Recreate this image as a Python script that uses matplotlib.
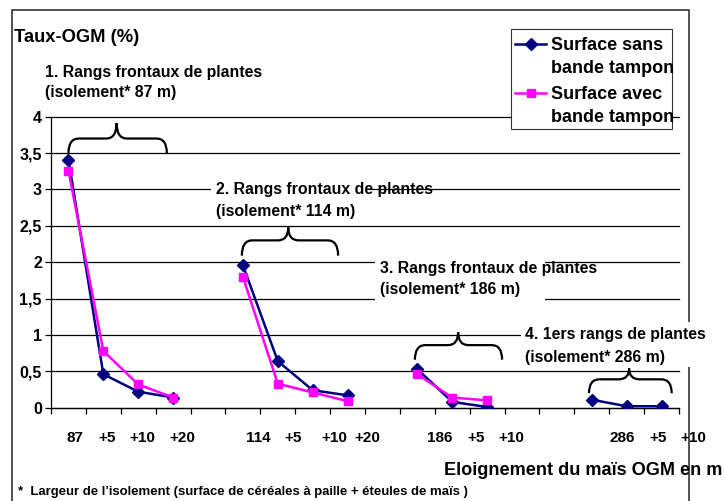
import numpy as np
import matplotlib.pyplot as plt
from matplotlib.patches import Rectangle, PathPatch
from matplotlib.path import Path
from matplotlib.lines import Line2D

plt.rcParams['font.family'] = ['Liberation Sans', 'DejaVu Sans']
plt.rcParams['font.weight'] = 'bold'

W, H = 726, 501

sans_bande = [3.41, 0.46, 0.22, 0.14, np.nan, 1.96, 0.64, 0.24, 0.17, np.nan,
              0.53, 0.08, 0.01, np.nan, np.nan, 0.11, 0.02, 0.02]
avec_bande = [3.26, 0.78, 0.32, 0.14, np.nan, 1.80, 0.33, 0.21, 0.09, np.nan,
              0.46, 0.14, 0.10, np.nan, np.nan, np.nan, np.nan, np.nan]
x_labels = ['87', '+5', '+10', '+20', '114', '+5', '+10', '+20',
            '186', '+5', '+10', '286', '+5', '+10']
y_ticks = [0, 0.5, 1, 1.5, 2, 2.5, 3, 3.5, 4]
y_labels = ['0', '0,5', '1', '1,5', '2', '2,5', '3', '3,5', '4']
series_names = ['Surface sans\nbande tampon', 'Surface avec\nbande tampon']
group_titles = [['1. Rangs frontaux de plantes', '(isolement* 87 m)'],
                ['2. Rangs frontaux de plantes', '(isolement* 114 m)'],
                ['3. Rangs frontaux de plantes', '(isolement* 186 m)'],
                ['4. 1ers rangs de plantes', '(isolement* 286 m)']]

# position des libelles x (en unites de categorie)
x_label_pos = [0.19, 1.10, 2.11, 3.26, 5.43, 6.44, 7.61, 8.58,
               10.65, 11.68, 12.68, 15.87, 16.90, 17.90]
# accolades : x gauche, x droite, x centre, y bas, y epaule, y pointe
braces = [(0.0, 2.82, 1.38, 3.50, 3.70, 3.91),
          (4.97, 7.73, 6.30, 2.09, 2.30, 2.48),
          (9.93, 12.43, 11.17, 0.66, 0.86, 1.04),
          (14.92, 17.29, 16.07, 0.20, 0.39, 0.54)]
# textes des groupes : x gauche (px), lignes de base (px)
title_pos = [(45, [77.3, 97.3]), (216, [194, 215.7]),
             (380, [273.3, 294.3]), (525, [339.3, 361.7])]
# caches blancs derriere les textes (px)
masks = [(211, 180, 372, 221), (375, 255, 545, 306), (521, 322, 712, 367)]


def fx(px): return px / W
def fy(py): return 1 - py / H


fig = plt.figure(figsize=(W / 100, H / 100), dpi=100)
ax = fig.add_axes([fx(51), fy(407.7), 628 / W, 291 / H])

x = np.arange(len(sans_bande))
ax.plot(x, sans_bande, color='#000080', lw=1.8, marker='D', ms=6.3, zorder=3)
ax.plot(x, avec_bande, color='#FF00FF', lw=1.8, marker='s', ms=6.2, zorder=4)

ax.set_xlim(-0.5, len(x) - 0.5)
ax.set_ylim(0, 4)
ax.set_yticks(y_ticks)
ax.set_yticklabels(y_labels, fontsize=11.5, fontweight='bold')
ax.set_xticks(np.arange(-0.5, len(x), 1))
ax.set_xticklabels([])
ax.tick_params(axis='y', length=4, width=0.9, pad=2.5)
ax.tick_params(axis='x', length=4, width=0.9)
ax.yaxis.grid(True, color='black', lw=0.9)
for gl in ax.get_ygridlines():
    gl.set_clip_on(False)
ax.set_axisbelow(True)
for s in ['top', 'right']:
    ax.spines[s].set_visible(False)
for s in ['left', 'bottom']:
    ax.spines[s].set_linewidth(0.9)

for lab, xp in zip(x_labels, x_label_pos):
    ax.text(xp, (407.7 - 441.7) / 291, lab, transform=ax.get_xaxis_transform(),
            ha='center', va='baseline', fontsize=11, fontweight='bold', clip_on=False)

# accolades
for x0, x1, xc, yb, ys, yp in braces:
    r = 0.3
    verts = [(x0, yb), (x0, ys), (x0 + r, ys), (xc - r, ys), (xc, ys), (xc, yp),
             (xc, ys), (xc + r, ys), (x1 - r, ys), (x1, ys), (x1, yb)]
    codes = [Path.MOVETO, Path.CURVE3, Path.CURVE3, Path.LINETO, Path.CURVE3, Path.CURVE3,
             Path.CURVE3, Path.CURVE3, Path.LINETO, Path.CURVE3, Path.CURVE3]
    ax.add_patch(PathPatch(Path(verts, codes), fill=False, lw=1.6, ec='black',
                           zorder=5, clip_on=False))

# cadre exterieur
fig.patches.append(Rectangle((fx(12), fy(530)), (689 - 12) / W, 520 / H,
                             transform=fig.transFigure, fill=False,
                             ec='#333333', lw=1.2, zorder=0.9))
for x0, y0, x1, y1 in masks:
    fig.patches.append(Rectangle((fx(x0), fy(y1)), (x1 - x0) / W, (y1 - y0) / H,
                                 transform=fig.transFigure, fc='white', ec='none', zorder=1))

fig.text(fx(14), fy(42.3), 'Taux-OGM (%)', fontsize=13.2, fontweight='bold',
         va='baseline', zorder=6)
for (tx, bases), lines in zip(title_pos, group_titles):
    for b, line in zip(bases, lines):
        fig.text(fx(tx), fy(b), line, fontsize=11.4, fontweight='bold', va='baseline', zorder=6)

fig.text(fx(444), fy(475), 'Eloignement du maïs OGM en m', fontsize=13.1,
         fontweight='bold', va='baseline', zorder=6)
fig.text(fx(18), fy(495),
         '*  Largeur de l\u2019isolement (surface de céréales à paille + éteules de maïs )',
         fontsize=9.45, fontweight='bold', va='baseline', zorder=6)

# legende
fig.patches.append(Rectangle((fx(510.7), fy(129)), (672.3 - 510.7) / W, (129 - 29.3) / H,
                             transform=fig.transFigure, fc='white', ec='#333333',
                             lw=0.8, zorder=1))
styles = [('#000080', 'D'), ('#FF00FF', 's')]
for i, (name, (col, mk)) in enumerate(zip(series_names, styles)):
    yb = [50, 99][i]
    fig.lines.append(Line2D([fx(515), fx(546)], [fy(yb - 6.5)] * 2, transform=fig.transFigure,
                            color=col, lw=1.8, zorder=6))
    fig.lines.append(Line2D([fx(530.5)], [fy(yb - 6.5)], transform=fig.transFigure,
                            color=col, marker=mk, ms=6 if mk == 'D' else 5.5, zorder=6))
    for j, line in enumerate(name.split('\n')):
        fig.text(fx(551), fy(yb + 23.3 * j), line, fontsize=13, fontweight='bold',
                 va='baseline', zorder=6)

fig.savefig('out.png', dpi=100)
